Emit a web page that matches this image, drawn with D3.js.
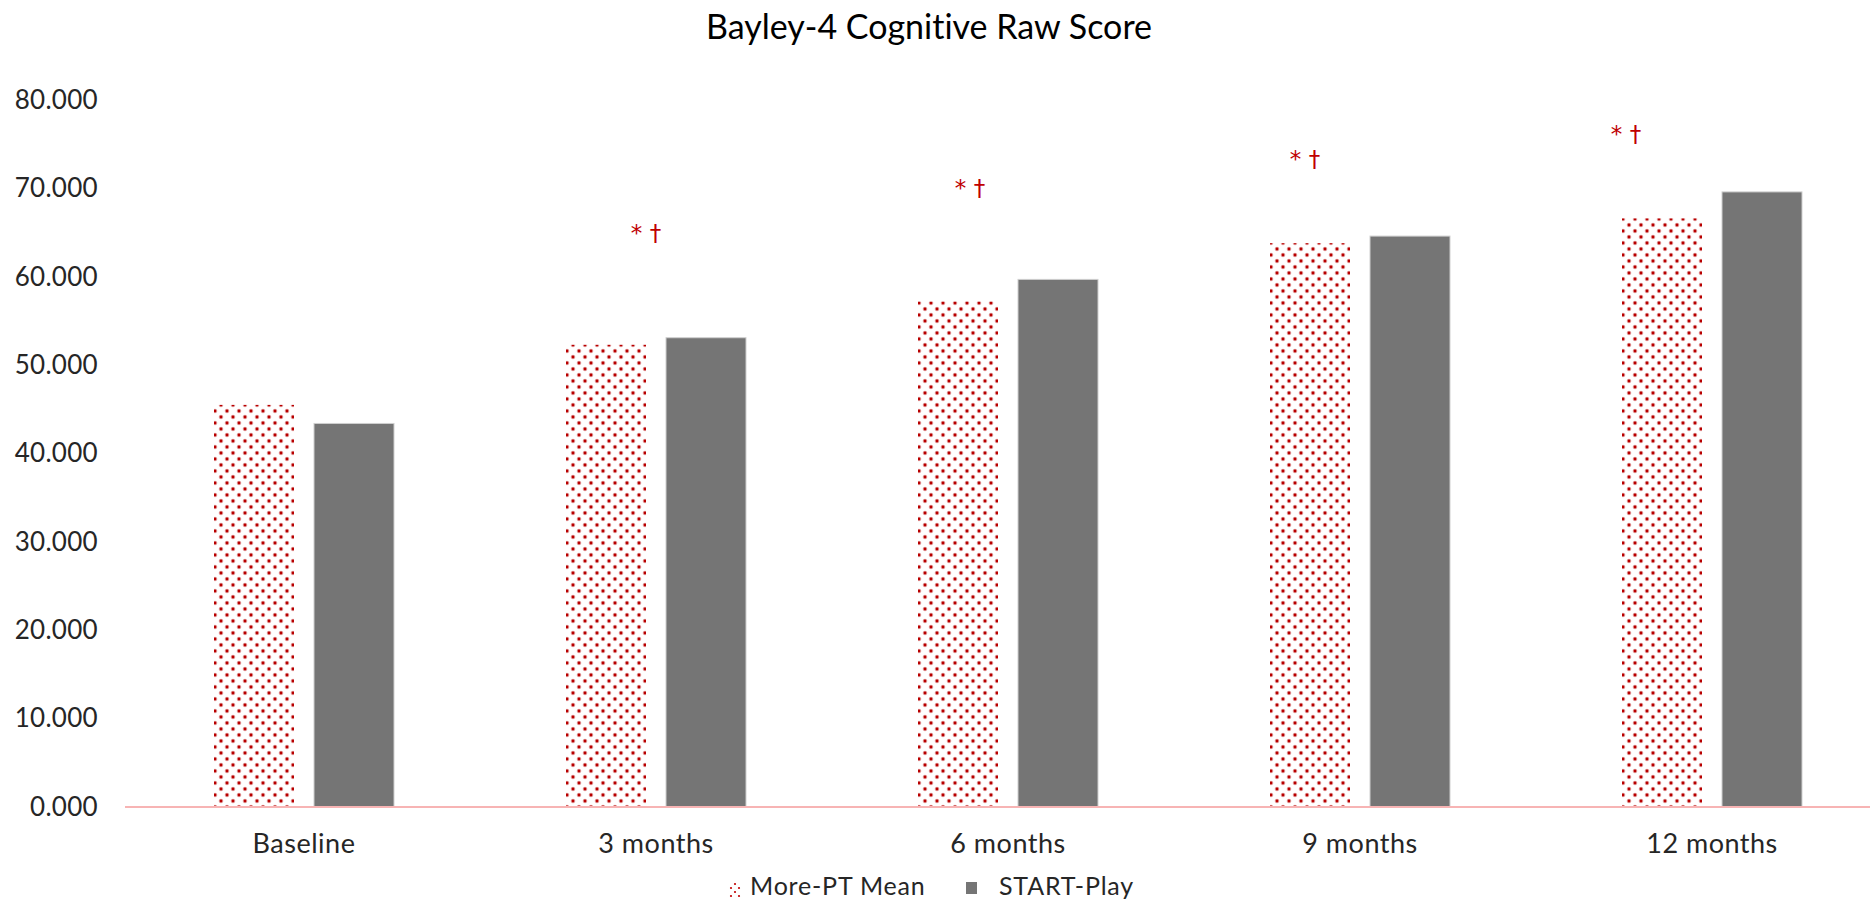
<!DOCTYPE html>
<html>
<head>
<meta charset="utf-8">
<script src="https://cdn.jsdelivr.net/npm/d3@7"></script>
<style>
  html, body { margin: 0; padding: 0; background: #fff; }
  svg { display: block; font-family: Lato, "Open Sans", sans-serif; font-variant-ligatures: none; }
</style>
</head>
<body>
<svg id="chart" width="1870" height="901"></svg>
<script>
// Bayley-4 cognitive raw scores by visit
const categories = ["Baseline", "3 months", "6 months", "9 months", "12 months"];
const seriesNames = ["More-PT Mean", "START-Play"];
const morePT = [45.5, 52.3, 57.2, 63.8, 66.6];
const startPlay = [43.4, 53.1, 59.7, 64.6, 69.6];
const yTicks = [0, 10, 20, 30, 40, 50, 60, 70, 80];
// significance markers: visit, text, level (in score units) where the marker sits
const markerVisits = ["3 months", "6 months", "9 months", "12 months"];
const markerLevels = [65.0, 70.0, 73.3, 76.1];
const markerText = "* \u2020";

const svg = d3.select("#chart");
const W = 1870, H = 901;

const y = d3.scaleLinear().domain([0, 80]).range([807, 100]);
const x0 = d3.scaleBand().domain(categories).range([128, 1888]).padding(0);
const x1 = d3.scaleBand().domain(seriesNames).range([86, 266]).paddingInner(0.2);

// dotted fill for the More-PT bars
const defs = svg.append("defs");
const pat = defs.append("pattern")
  .attr("id", "dots")
  .attr("patternUnits", "userSpaceOnUse")
  .attr("width", 12).attr("height", 12);
pat.append("rect").attr("width", 12).attr("height", 12).attr("fill", "#fff");
[[3, 3], [9, 9]].forEach(([cx, cy]) => {
  pat.append("circle").attr("cx", cx).attr("cy", cy).attr("r", 2.3).attr("fill", "#e6a9a9");
  pat.append("circle").attr("cx", cx).attr("cy", cy).attr("r", 1.4).attr("fill", "#b80000");
});

// title
svg.append("text")
  .attr("x", 929).attr("y", 39)
  .attr("text-anchor", "middle")
  .attr("font-size", 34)
  .attr("fill", "#000")
  .text("Bayley-4 Cognitive Raw Score");

// y axis labels (no axis line, no gridlines)
const yAxis = d3.axisLeft(y).tickValues(yTicks).tickFormat(d3.format(".3f")).tickSize(0).tickPadding(0);
const gy = svg.append("g").attr("transform", "translate(98,0)").call(yAxis);
gy.select(".domain").remove();
gy.selectAll("text")
  .attr("font-size", 26)
  .attr("letter-spacing", 0.3)
  .attr("fill", "#262626")
  .attr("font-family", "Lato, sans-serif");

// bars
const groups = svg.append("g").selectAll("g")
  .data(categories)
  .join("g")
  .attr("transform", d => `translate(${x0(d)},0)`);

groups.append("rect")
  .attr("x", x1(seriesNames[0]))
  .attr("width", x1.bandwidth())
  .attr("y", (d, i) => y(morePT[i]))
  .attr("height", (d, i) => y(0) - y(morePT[i]))
  .attr("fill", "url(#dots)");

groups.append("rect")
  .attr("x", x1(seriesNames[1]))
  .attr("width", x1.bandwidth())
  .attr("y", (d, i) => y(startPlay[i]))
  .attr("height", (d, i) => y(0) - y(startPlay[i]))
  .attr("fill", "#757575")
  .attr("stroke", "#cfcfcf")
  .attr("stroke-width", 1);

// category axis
const xAxis = d3.axisBottom(x0).tickSize(0).tickPadding(0);
const gx = svg.append("g").attr("transform", `translate(0,${y(0)})`).call(xAxis);
gx.select(".domain").remove();
gx.selectAll("text")
  .attr("dy", null)
  .attr("y", 46)
  .attr("font-size", 27)
  .attr("letter-spacing", 0.5)
  .attr("fill", "#262626")
  .attr("font-family", "Lato, sans-serif");
svg.append("line")
  .attr("x1", 125).attr("x2", W)
  .attr("y1", y(0)).attr("y2", y(0))
  .attr("stroke", "#f7b4b4").attr("stroke-width", 2);

// significance markers, nudged horizontally relative to the More-PT bar centre
const markerShift = [40, 12, -5, -36];
svg.append("g").selectAll("text")
  .data(markerVisits)
  .join("text")
  .attr("x", (d, i) => x0(d) + x1(seriesNames[0]) + x1.bandwidth() / 2 + markerShift[i])
  .attr("y", (d, i) => y(markerLevels[i]) + 8)
  .attr("text-anchor", "middle")
  .attr("font-size", 23)
  .attr("fill", "#c00000")
  .attr("font-family", "'DejaVu Sans', sans-serif")
  .text(markerText);

// legend
const leg = svg.append("g");
const legPat = leg.append("g").attr("fill", "#c00000");
[[731, 888], [735, 884], [739, 888], [735, 892], [731, 896], [739, 896]].forEach(([cx, cy]) => {
  legPat.append("circle").attr("cx", cx).attr("cy", cy).attr("r", 1.1);
});
leg.append("text").attr("x", 750).attr("y", 895)
  .attr("font-size", 25).attr("letter-spacing", 0.8).attr("fill", "#262626").text(seriesNames[0]);
leg.append("rect").attr("x", 966).attr("y", 882).attr("width", 11).attr("height", 12).attr("fill", "#757575");
leg.append("text").attr("x", 999).attr("y", 895)
  .attr("font-size", 25).attr("letter-spacing", 0.8).attr("fill", "#262626").text(seriesNames[1]);
</script>
</body>
</html>
